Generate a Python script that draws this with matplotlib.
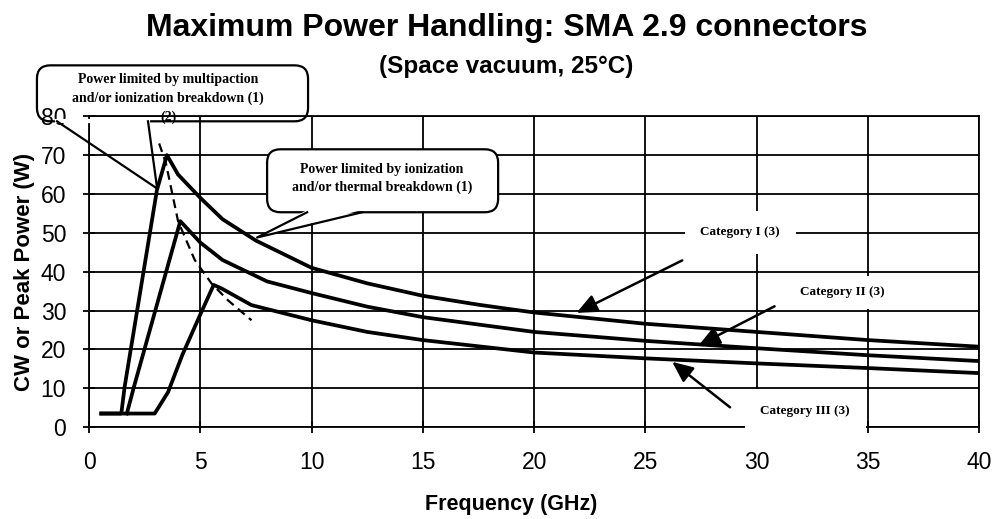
import matplotlib
matplotlib.use('Agg')
import matplotlib.pyplot as plt
from matplotlib.patches import FancyBboxPatch, Polygon

# values
cat1_freq = [0.55, 1.45, 1.6, 3.05, 3.5, 4, 5, 6, 7.5, 10, 12.5, 15, 17.5, 20, 25, 30, 35, 40]
cat1_power = [3.5, 3.5, 10.4, 61, 70, 65, 59, 53.5, 48, 41, 37, 33.8, 31.5, 29.5, 26.6, 24.5, 22.4, 20.7]

cat2_freq = [1.7, 2.0, 4.1, 5, 6, 8, 10, 12.5, 15, 20, 25, 30, 35, 40]
cat2_power = [3.5, 10, 53, 47.5, 43, 37.5, 34.5, 31, 28.3, 24.5, 22.2, 20.3, 18.5, 17.0]

cat3_freq = [0.55, 2.95, 3.55, 4.2, 5.0, 5.6, 5.95, 7.3, 10, 12.5, 15, 20, 25, 30, 35, 40]
cat3_power = [3.5, 3.5, 9, 18.7, 29, 36.6, 35.7, 31.4, 27.5, 24.5, 22.4, 19.2, 17.7, 16.4, 15.2, 13.9]

limit_freq = [3.15, 3.45, 4.0, 4.75, 5.5, 6.25, 7.3]
limit_power = [73, 68, 53, 43, 37, 32.6, 27.5]

cat_labels = ['Category I (3)', 'Category II (3)', 'Category III (3)']
cat_label_xy = [(29.26, 50.1), (33.84, 34.7), (32.18, 4.1)]
cat_arrow_tail = [(26.65, 42.9), (30.8, 31.1), (28.8, 5.1)]
cat_arrow_tip = [(21.9, 29.4), (27.4, 21.1), (26.2, 16.8)]
cat_label_pad = [1.2, 0.8, 1.2]

fig = plt.figure(figsize=(9.97, 5.19), dpi=100)
ax = fig.add_axes([0.0893, 0.177, 0.893, 0.599])
ax.set_xlim(0, 40)
ax.set_ylim(0, 80)
ax.set_xticks(range(0, 41, 5))
ax.set_yticks(range(0, 81, 10))
ax.set_axisbelow(True)
ax.grid(True, color='black', lw=1.3)
for s in ax.spines.values():
    s.set_linewidth(1.3)
ax.tick_params(direction='inout', length=9, width=1.3, labelsize=16.5)
ax.tick_params(axis='x', pad=13)
ax.tick_params(axis='y', pad=12)
for lab in ax.get_xticklabels() + ax.get_yticklabels():
    lab.set_fontfamily('Liberation Sans')

ax.plot(cat1_freq, cat1_power, color='black', lw=2.7, zorder=2)
ax.plot(cat2_freq, cat2_power, color='black', lw=2.7, zorder=2)
ax.plot(cat3_freq, cat3_power, color='black', lw=2.7, zorder=2)
ax.plot(limit_freq, limit_power, color='black', lw=1.6, ls=(0, (4, 2.5)), zorder=2)

# category labels with arrows
for lab, xy, tail, tip, pad in zip(cat_labels, cat_label_xy, cat_arrow_tail, cat_arrow_tip, cat_label_pad):
    ax.annotate('', xy=tip, xytext=tail,
                arrowprops=dict(arrowstyle='-|>,head_length=0.9,head_width=0.4',
                                color='black', lw=1.8, mutation_scale=14,
                                shrinkA=0, shrinkB=0), zorder=4)
    ax.text(xy[0], xy[1], lab, ha='center', va='center', fontsize=9.5,
            fontweight='bold', family='Liberation Serif', zorder=5,
            bbox=dict(boxstyle='square,pad=%s' % pad, fc='white', ec='none'))

# aspect of one x unit vs one y unit on screen, for round corners
pos = ax.get_position()
asp = (pos.width * 997 / 40) / (pos.height * 519 / 80)

# callout 1: multipaction / ionization
box1 = FancyBboxPatch((-2.34, 78.7), 12.18, 14.4, boxstyle='round,pad=0,rounding_size=0.6',
                      mutation_aspect=asp, fc='none', ec='black', lw=1.6,
                      transform=ax.transData, clip_on=False, zorder=6)
ax.add_patch(box1)
ax.plot([-1.44, 2.65], [78.7, 78.7], color='white', lw=3, clip_on=False, zorder=6.5)
ax.plot([-1.44, 3.06, 2.65], [78.7, 61.4, 78.7], color='black', lw=1.6,
        clip_on=False, zorder=7)
ax.text(3.55, 84.6, 'Power limited by multipaction\nand/or ionization breakdown (1)\n(2)',
        ha='center', va='center', fontsize=10, fontweight='bold', linespacing=1.5,
        family='Liberation Serif', zorder=8)

# callout 2: ionization / thermal
box2 = FancyBboxPatch((8.0, 55.3), 10.38, 16.2, boxstyle='round,pad=0,rounding_size=0.6',
                      mutation_aspect=asp, fc='white', ec='black', lw=1.6,
                      transform=ax.transData, clip_on=False, zorder=6)
ax.add_patch(box2)
ax.add_patch(Polygon([(9.8, 55.9), (7.55, 48.8), (12.27, 55.9)], closed=True,
                     fc='white', ec='none', zorder=6.5))
ax.plot([9.8, 7.55, 12.27], [55.3, 48.8, 55.3], color='black', lw=1.6, zorder=7)
ax.text(13.17, 64, 'Power limited by ionization\nand/or thermal breakdown (1)',
        ha='center', va='center', fontsize=10, fontweight='bold', linespacing=1.5,
        family='Liberation Serif', zorder=8)

ax.set_ylabel('CW or Peak Power (W)', fontsize=16, fontweight='bold',
              family='Liberation Sans', labelpad=4)
ax.set_xlabel('Frequency (GHz)', fontsize=15.5, fontweight='bold',
              family='Liberation Sans', labelpad=14, x=0.474)

fig.text(0.508, 0.946, 'Maximum Power Handling: SMA 2.9 connectors', ha='center', va='center',
         fontsize=23, fontweight='bold', family='Liberation Sans')
fig.text(0.508, 0.871, '(Space vacuum, 25\u00b0C)', ha='center', va='center',
         fontsize=17.5, fontweight='bold', family='Liberation Sans')

fig.savefig('out.png', dpi=100)
